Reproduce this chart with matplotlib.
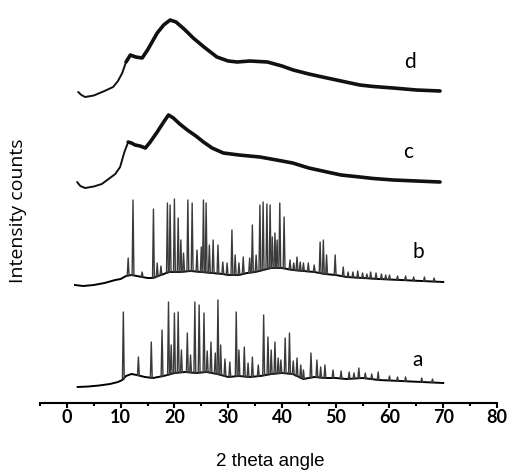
import numpy as np
import matplotlib
matplotlib.use('Agg')
import matplotlib.pyplot as plt

# amorphous patterns (c, d): 2theta and intensity
c_x = [1.9, 2.5, 3.4, 5, 6.5, 8, 9, 9.9, 10.7, 11.4, 12, 12.7, 13.6, 14.6, 15.5, 16.8, 18, 18.9,
       19.8, 21, 22.4, 24, 25.4, 27, 29.1, 32, 35.9, 39, 42, 45, 48.4, 51, 54.5, 57, 60.7, 65, 69.4]
c_y = [221, 217, 215, 216.5, 219, 225, 229, 236, 251, 261, 260, 258, 257, 255, 261, 271, 281, 288,
       285, 279, 273, 267, 261, 255, 250, 248, 246, 243, 240, 235, 231, 228, 226, 224.5, 223, 222, 221]

d_x = [2.1, 2.7, 3.4, 5, 7, 8.6, 9.5, 10.3, 11, 11.8, 12.8, 14, 15, 16.8, 18, 19.2, 20.3, 21.8,
       23.5, 25.5, 27.9, 30, 31.7, 34, 37.3, 40, 42.1, 45, 48.4, 51, 54.5, 57, 60.7, 65, 69.4]
d_y = [311, 308, 306, 307.5, 312, 316, 322, 330, 341, 348, 346, 345, 353, 370, 378, 383, 381, 374,
       365, 356, 346, 342, 341, 342, 341, 337, 333, 329, 325, 322, 318, 316.5, 315, 313, 312]

# crystalline patterns (a, b): baseline and peak tops
a_base_x = [2, 4, 6, 8, 9.5, 10.3, 11, 12, 13, 14.5, 16, 18, 20, 22, 24, 26, 28, 30, 32, 34,
            36, 38, 40, 42, 44, 46, 48, 50, 52, 55, 58, 62, 66, 70]
a_base_y = [16, 16.5, 17.5, 19, 21, 23, 27, 29, 28, 26, 25, 27, 30, 31, 30, 31, 29, 26, 27, 26,
            27, 29, 30, 29, 24, 26, 25, 25, 24, 25, 23, 22, 21, 20]
a_peak_x = [10.5, 13.3, 15.7, 17.7, 18.9, 19.4, 20.0, 20.7, 21.3, 22.4, 23.0, 23.8, 24.6, 25.5,
            26.1, 26.8, 27.6, 28.1, 28.6, 29.4, 30.3, 31.5, 32.0, 33.0, 33.7, 34.5, 35.6, 36.6,
            37.4, 38.0, 38.7, 39.3, 39.8, 40.6, 41.4, 42.1, 42.8, 43.5, 44.0, 45.4, 46.5, 47.2,
            48.0, 49.5, 51, 52.5, 53.4, 54.3, 55.5, 56.7, 57.9, 60, 61.5, 63, 66, 68]
a_peak_y = [91, 46, 61, 73, 101, 58, 90, 91, 53, 70, 48, 101, 98, 90,
            52, 61, 50, 103, 58, 44, 41, 91, 53, 56, 40, 46, 38, 88,
            66, 53, 61, 45, 43, 65, 70, 42, 45, 38, 33, 50, 43, 36,
            38, 33, 32, 31, 30, 35, 30, 29, 31, 27, 26, 26, 25, 24]

b_base_x = [1.5, 3, 5, 7, 9, 10, 11, 12, 13, 14, 15, 16, 17.5, 19, 21, 23, 25, 27, 29, 30, 32,
            33.5, 35, 38, 40, 42, 44, 46, 48, 50, 52, 55, 58, 62, 66, 70]
b_base_y = [118, 117, 118, 120, 123, 124, 127, 128, 127, 126, 125, 125, 128, 131, 131, 132, 131,
            130, 129, 128, 128, 130, 131, 135, 135, 133, 132, 131, 129, 128, 126, 125, 124, 123,
            122, 121]
b_peak_x = [11.4, 12.3, 14.0, 16.1, 16.8, 17.5, 18.7, 19.2, 20.0, 20.7, 21.2, 21.7, 22.5, 23.3,
            24.2, 25.0, 25.4, 25.9, 26.5, 27.2, 28.1, 29, 29.8, 30.7, 31.3, 32.0, 32.8, 34.0,
            34.5, 35.2, 35.9, 36.5, 37.2, 37.8, 38.2, 38.7, 39.1, 39.6, 40.4, 41.5, 42.2, 42.8,
            43.4, 44.0, 44.9, 46.0, 47.1, 47.7, 48.3, 49.9, 51.4, 52.3, 53.2, 54.1, 55, 55.8,
            56.5, 57.5, 58.5, 59.3, 60, 61.5, 63, 64.5, 66.5, 68.3]
b_peak_y = [145, 203, 131, 194, 140, 137, 200, 198, 204, 185, 163, 150, 203, 200,
            153, 156, 203, 200, 158, 163, 158, 141, 140, 173, 148, 140, 146, 145,
            178, 148, 198, 201, 199, 198, 166, 170, 163, 200, 186, 143, 140, 146,
            141, 140, 140, 138, 161, 163, 148, 148, 136, 131, 131, 132, 130, 129,
            131, 130, 129, 128, 128, 127, 127, 126, 126, 125]

labels = ['a', 'b', 'c', 'd']
label_x = [65.3, 65.3, 63.5, 63.8]
label_y = [43, 151, 251, 341]

fig = plt.figure(figsize=(5.08, 4.71), dpi=100)
ax = fig.add_axes([40 / 508, 68 / 471, 457 / 508, 403 / 471])

# amorphous curves: thin smooth start, thick noisy-looking body
for xs, ys in [(c_x, c_y), (d_x, d_y)]:
    ax.plot(xs, ys, color='#111111', lw=1.4, solid_capstyle='round')
    xs = np.array(xs)
    ys = np.array(ys)
    m = xs >= 11
    ax.plot(xs[m], ys[m], color='#111111', lw=2.6, solid_joinstyle='round',
            solid_capstyle='round')

# crystalline curves: baseline plus narrow peaks
w = 0.17
for bx, by, px, py in [(a_base_x, a_base_y, a_peak_x, a_peak_y),
                       (b_base_x, b_base_y, b_peak_x, b_peak_y)]:
    ax.plot(bx, by, color='black', lw=1.4)
    bottoms = np.interp(px, bx, by)
    for x, b, t in zip(px, bottoms, py):
        ax.plot([x - w, x, x + w], [b, t, b], color='#3a3a3a', lw=1.0)

for t, x, y in zip(labels, label_x, label_y):
    ax.text(x, y, t, fontsize=15, family='Lato', ha='center', va='center')

ax.set_xlim(-5, 80)
ax.set_ylim(0, 403)
ax.set_xticks(range(0, 81, 10))
ax.set_xticks(range(-5, 81, 10), minor=True)
ax.set_yticks([])
for s in ['left', 'right', 'top']:
    ax.spines[s].set_visible(False)
ax.spines['bottom'].set_linewidth(1.5)
ax.tick_params(axis='x', which='major', length=3.8, width=1.5, pad=0.5)
ax.tick_params(axis='x', which='minor', length=2.5, width=1.5)
for lab in ax.get_xticklabels():
    lab.set_family('Lato')
    lab.set_fontweight('bold')
    lab.set_fontsize(13)

fig.text(270 / 508, 1 - 461 / 471, '2 theta angle', family='Liberation Sans', fontsize=13.5,
         ha='center', va='center')
fig.text(18 / 508, 1 - 211 / 471, 'Intensity counts', family='Open Sans', fontsize=14,
         rotation=90, ha='center', va='center')

fig.savefig('out.png', dpi=100)
